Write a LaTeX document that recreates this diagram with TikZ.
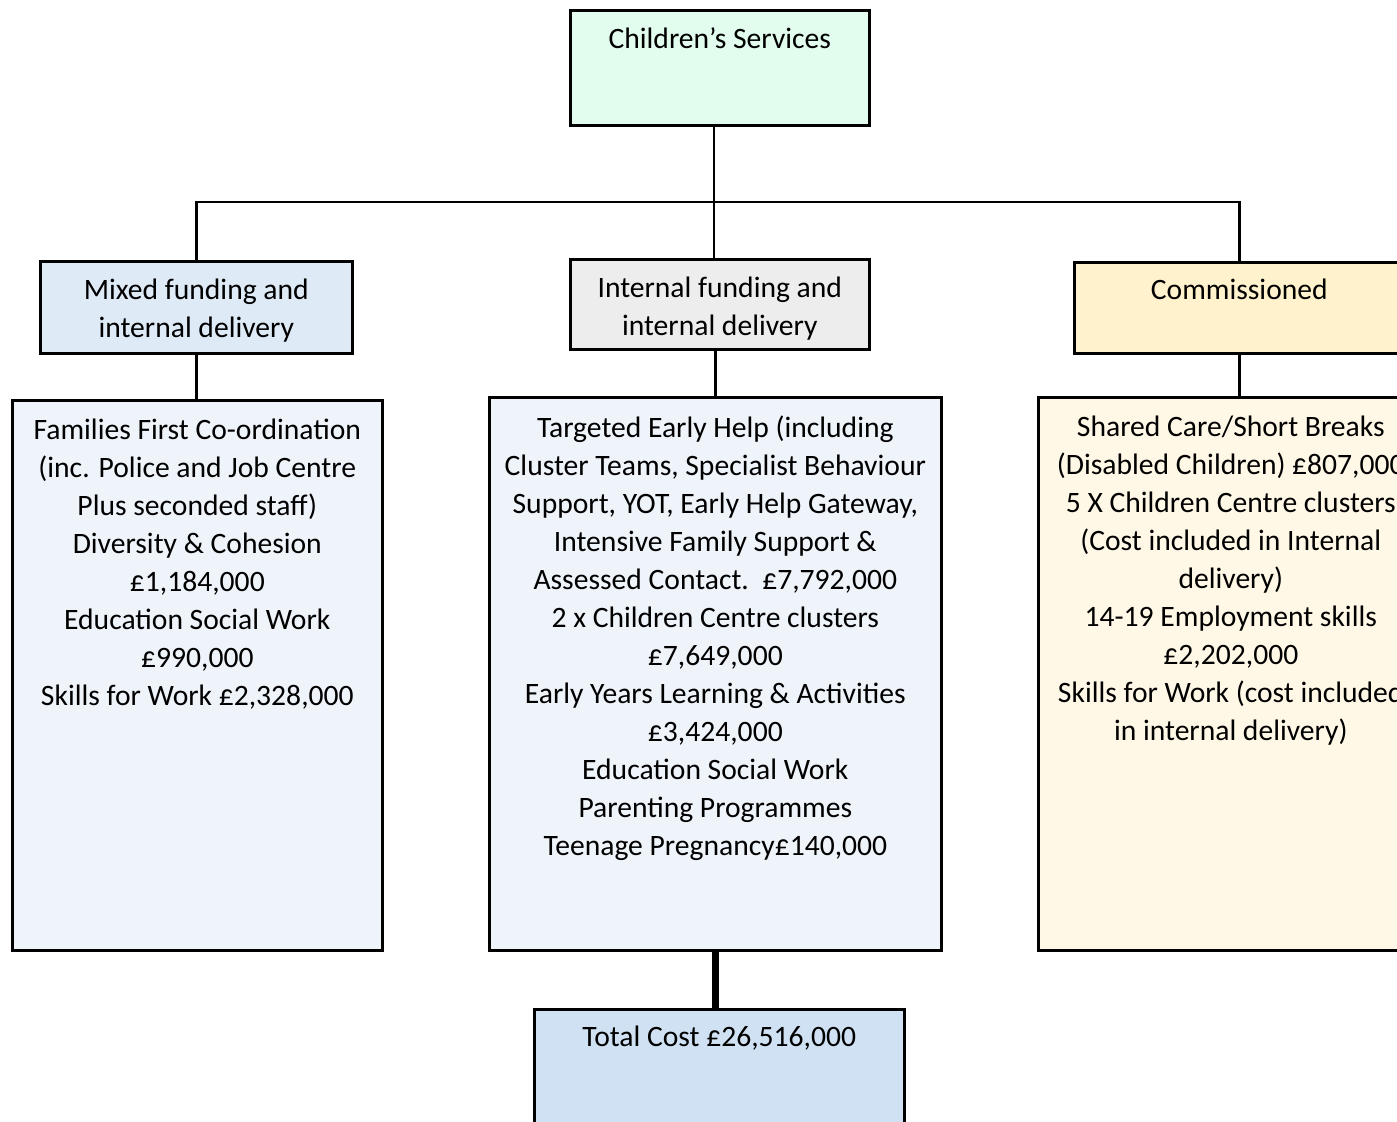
\documentclass[tikz,border=0pt]{standalone}
\usepackage{fontspec}
\setmainfont{Carlito}
\usetikzlibrary{positioning}

\definecolor{csgreen}{HTML}{E2FCEE}
\definecolor{mixblue}{HTML}{DEEAF6}
\definecolor{intgrey}{HTML}{EDEDED}
\definecolor{comyellow}{HTML}{FFF2CC}
\definecolor{listblue}{HTML}{EFF3FA}
\definecolor{listyellow}{HTML}{FFF8E6}
\definecolor{totblue}{HTML}{CFE1F2}

\begin{document}
\begin{tikzpicture}[x=0.5pt,y=-0.5pt,line width=1.3pt,
        box/.style={draw,anchor=north west,inner sep=0pt},
        txt/.style={align=center,inner sep=0pt,font=\fontsize{14.8}{19}\selectfont},
        thickconn/.style={line width=3.5pt}]

  \useasboundingbox (0,0) rectangle (1397,1122);
  \clip (0,0) rectangle (1397,1122);

  % boxes
  \node[box,fill=csgreen,minimum width=149.5pt,minimum height=57.5pt] (cs) at (569,9) {};
  \node[box,fill=mixblue,minimum width=156pt,minimum height=46pt] (mixed) at (39,260) {};
  \node[box,fill=intgrey,minimum width=149.5pt,minimum height=45pt] (internal) at (569,258) {};
  \node[box,fill=comyellow,minimum width=165pt,minimum height=45.5pt] (comm) at (1073,261) {};
  \node[box,fill=listblue,minimum width=185pt,minimum height=275pt] (mixlist) at (11,399) {};
  \node[box,fill=listblue,minimum width=226pt,minimum height=276.5pt] (intlist) at (488,396) {};
  \node[box,fill=listyellow,minimum width=192.5pt,minimum height=276.5pt] (comlist) at (1037,396) {};
  \node[box,fill=totblue,minimum width=185pt,minimum height=65pt] (total) at (533,1008) {};

  % texts
  \node[txt,below=8.5pt of cs.north] (cs-t) {Children’s Services};
  \node[txt,below=9pt of mixed.north] (mixed-t) {Mixed funding and\\internal delivery};
  \node[txt,below=9pt of internal.north] (internal-t) {Internal funding and\\internal delivery};
  \node[txt,below=8.5pt of comm.north] (comm-t) {Commissioned};
  \node[txt,below=9.5pt of mixlist.north] (mixlist-t) {Families First Co-ordination\\
    (inc. Police and Job Centre\\Plus seconded staff)\\Diversity \& Cohesion\\
    £1,184,000\\Education Social Work\\£990,000\\Skills for Work £2,328,000};
  \node[txt,below=9.5pt of intlist.north] (intlist-t) {Targeted Early Help (including\\
    Cluster Teams, Specialist Behaviour\\Support, YOT, Early Help Gateway,\\
    Intensive Family Support \&\\Assessed Contact.\ \ £7,792,000\\
    2 x Children Centre clusters\\£7,649,000\\Early Years Learning \& Activities\\
    £3,424,000\\Education Social Work\\Parenting Programmes\\Teenage Pregnancy£140,000};
  \node[txt,below=9.5pt of comlist.north] (comlist-t) {Shared Care/Short Breaks\\
    (Disabled Children) £807,000\\5 X Children Centre clusters\\
    (Cost included in Internal\\delivery)\\14-19 Employment skills\\
    £2,202,000\\Skills for Work (cost included\\in internal delivery)};
  \node[txt,below=8.5pt of total.north] (total-t) {Total Cost £26,516,000};

  % connectors
  \coordinate (bar) at (714,202);
  \draw (cs.south -| bar) -- (internal.north -| bar);
  \draw (mixed.north) -- (mixed.north |- bar) -- (comm.north |- bar) -- (comm.north);
  \draw (mixed.south) -- (mixed.south |- mixlist.north);
  \draw (intlist.north) -- (intlist.north |- internal.south);
  \draw (comm.south) -- (comm.south |- comlist.north);
  \draw[thickconn] (intlist.south) -- (intlist.south |- total.north);

\end{tikzpicture}
\end{document}
